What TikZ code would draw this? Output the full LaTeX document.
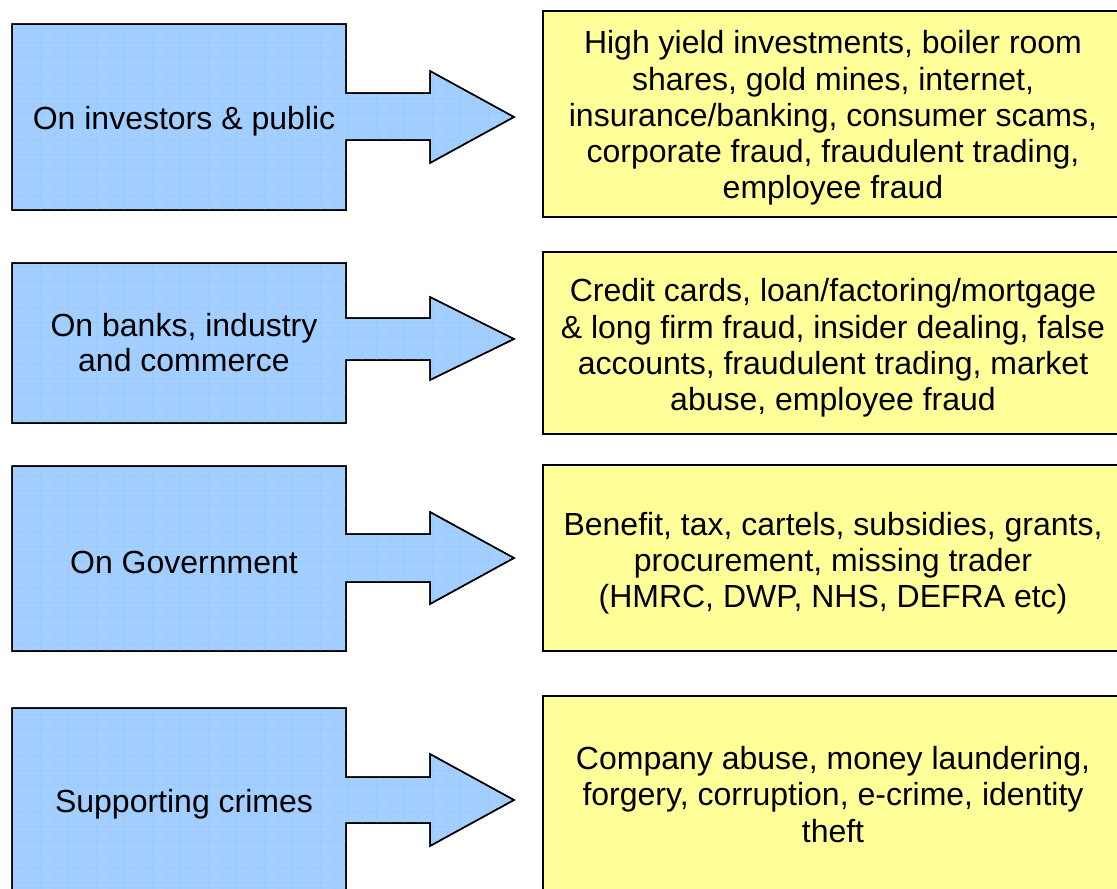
\documentclass[tikz,border=0pt]{standalone}
\usepackage{fontspec}
\setmainfont{Liberation Sans}
\definecolor{bluefill}{HTML}{A2CFFF}
\definecolor{bluegrid}{HTML}{9BCAFC}
\definecolor{yellowfill}{HTML}{FFFF99}
\tikzset{
  calloutshape/.style={draw=black, line width=1.5pt, fill=bluefill, line join=miter},
  yellowbox/.style={draw=black, line width=1.5pt, fill=yellowfill},
  bluetext/.style={font=\fontsize{32}{35}\selectfont, align=center, text=black},
  yellowtext/.style={font=\fontsize{32}{36.2}\selectfont, align=center, text=black},
}
% #1 top, #2 bottom, #3 shaft top, #4 shaft bottom, #5 head top, #6 head bottom, #7 tip y
\newcommand\mycallout[7]{%
  \path[calloutshape] (12,#1) -- (346,#1) -- (346,#3) -- (430,#3) -- (430,#5) -- (514,#7)
     -- (430,#6) -- (430,#4) -- (346,#4) -- (346,#2) -- (12,#2) -- cycle;
  \begin{scope}
    \clip (12,#1) -- (346,#1) -- (346,#3) -- (430,#3) -- (430,#5) -- (514,#7)
     -- (430,#6) -- (430,#4) -- (346,#4) -- (346,#2) -- (12,#2) -- cycle;
    \foreach \gx in {26,40,...,520} {\draw[bluegrid, line width=0.6pt] (\gx,0) -- (\gx,900);}
    \foreach \gy in {0,14,...,900} {\draw[bluegrid, line width=0.6pt] (0,\gy) -- (520,\gy);}
  \end{scope}
  \path[draw=black, line width=1.5pt, line join=miter] (12,#1) -- (346,#1) -- (346,#3) -- (430,#3) -- (430,#5) -- (514,#7)
     -- (430,#6) -- (430,#4) -- (346,#4) -- (346,#2) -- (12,#2) -- cycle;
}
\begin{document}
\begin{tikzpicture}[x=1pt,y=-1pt]
\useasboundingbox (0,0) rectangle (1117,889);
\clip (0,0) rectangle (1117,889);

\mycallout{24}{210}{93}{140}{71}{163}{117}
\mycallout{263}{423}{318}{360}{297}{380}{339}
\mycallout{466}{651}{534}{582}{512}{604}{558}
\mycallout{708}{896}{777}{823}{754}{846}{800}

\node[bluetext] (b1) at (184,121) {On investors \& public};
\node[bluetext] (b2) at (184,343) {On banks, industry\\and commerce};
\node[bluetext] (b3) at (184,562) {On Government};
\node[bluetext] (b4) at (184,804) {Supporting crimes};

\draw[yellowbox] (543,11) rectangle (1122,217);
\draw[yellowbox] (543,252) rectangle (1122,434);
\draw[yellowbox] (543,465) rectangle (1122,651);
\draw[yellowbox] (543,696) rectangle (1122,895);

\node[yellowtext] (y1) at (833,118) {High yield investments, boiler room\\shares, gold mines, internet,\\insurance/banking, consumer scams,\\corporate fraud, fraudulent trading,\\employee fraud};
\node[yellowtext] (y2) at (833,348) {Credit cards, loan/factoring/mortgage\\\& long firm fraud, insider dealing, false\\accounts, fraudulent trading, market\\abuse, employee fraud};
\node[yellowtext] (y3) at (833,563) {Benefit, tax, cartels, subsidies, grants,\\procurement, missing trader\\(HMRC, DWP, NHS, DEFRA etc)};
\node[yellowtext] (y4) at (833,794.5) {Company abuse, money laundering,\\forgery, corruption, e-crime, identity\\theft};
\end{tikzpicture}
\end{document}
